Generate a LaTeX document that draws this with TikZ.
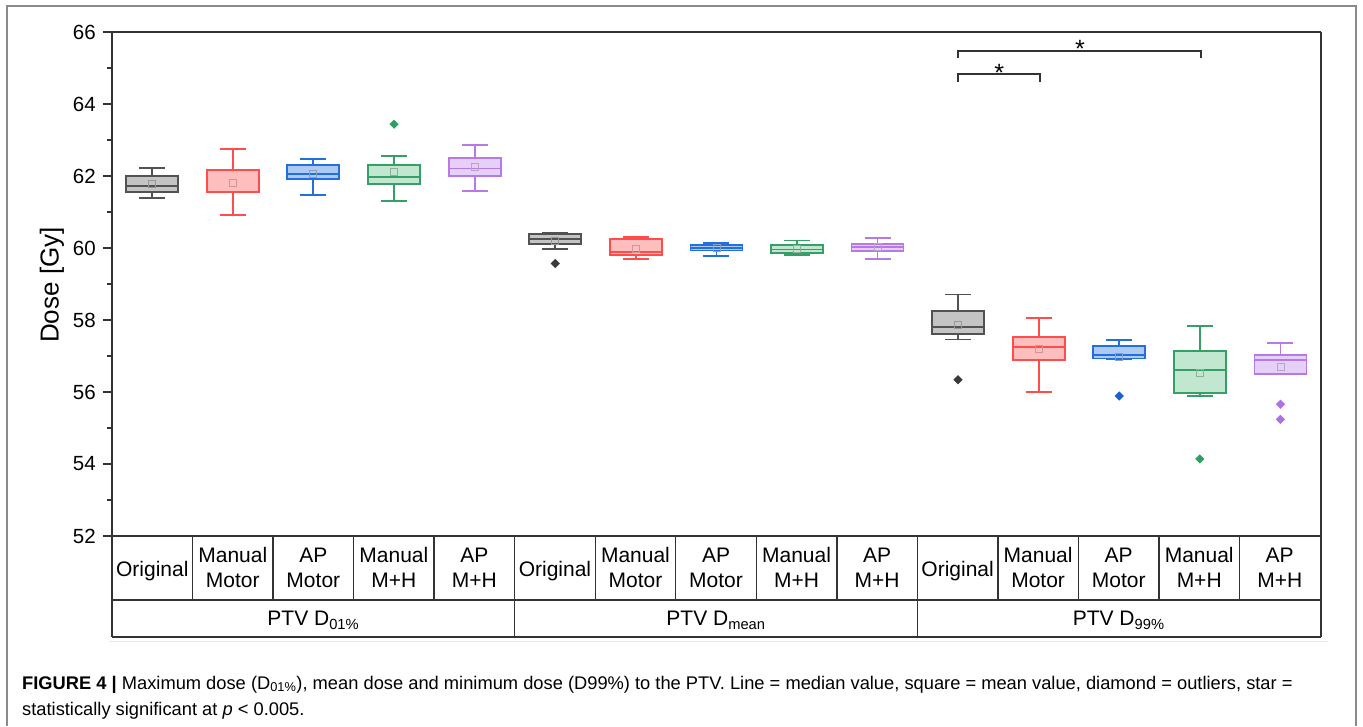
\documentclass[tikz,border=0pt]{standalone}
\usepackage{fontspec}
\setmainfont{Liberation Sans}
\definecolor{axcol}{HTML}{333333}
\definecolor{framegray}{HTML}{8A8A8A}
\definecolor{cgL}{HTML}{525252}\definecolor{cgF}{HTML}{C4C4C4}\definecolor{cgO}{HTML}{3A3A3A}
\definecolor{crL}{HTML}{FF4D4D}\definecolor{crF}{HTML}{FFBEBE}\definecolor{crO}{HTML}{FF4D4D}
\definecolor{cbL}{HTML}{2170DD}\definecolor{cbF}{HTML}{AECAF2}\definecolor{cbO}{HTML}{1A5FD6}
\definecolor{ceL}{HTML}{35A065}\definecolor{ceF}{HTML}{C2E7D0}\definecolor{ceO}{HTML}{2E9E62}
\definecolor{cpL}{HTML}{B779E8}\definecolor{cpF}{HTML}{E5D0F7}\definecolor{cpO}{HTML}{B070E5}
% #1 x, #2 whisker low, #3 q1, #4 median, #5 q3, #6 whisker high, #7 mean, #8 colour prefix
\newcommand{\bplot}[8]{%
  \draw[boxline, draw=#8L, fill=#8F] (#1-26,#3) rectangle (#1+26,#5);
  \draw[boxline, draw=#8L] (#1-26,#4) -- (#1+26,#4);
  \draw[boxline, draw=#8L] (#1,#5) -- (#1,#6) (#1-13,#6) -- (#1+13,#6)
        (#1,#3) -- (#1,#2) (#1-13,#2) -- (#1+13,#2);
  \draw[draw=#8L!45!gray!70!white, line width=0.8pt] (#1,#7) ++(-3.5pt,-3.5pt) rectangle ++(7pt,7pt);
}
\newcommand{\outl}[3]{\fill[#3] (#1,#2) +(4.6pt,0pt) -- +(0pt,4.6pt) -- +(-4.6pt,0pt) -- +(0pt,-4.6pt) -- cycle;}
\begin{document}
\begin{tikzpicture}[x=1pt,y=1pt,
  catlab/.style={font=\fontsize{21}{25}\selectfont, inner sep=0pt, anchor=base},
  ticklab/.style={font=\fontsize{20.5}{24}\selectfont, anchor=east, inner sep=0pt},
  axisline/.style={draw=axcol, line width=2pt},
  tabline/.style={draw=axcol, line width=1.4pt},
  tickline/.style={draw=axcol, line width=1.6pt},
  boxline/.style={line width=1.8pt},
  capt/.style={font=\fontsize{18.3}{22}\selectfont, anchor=base west, inner sep=0pt}]
\useasboundingbox (0,0) rectangle (1363,726);
\fill[white] (0,0) rectangle (1363,726);
% outer frame
\draw[framegray, line width=1.4pt] (7,0) -- (7,720) -- (1356,720) -- (1356,0);
\draw[gray!18, line width=1pt] (109,85) -- (1328,85);
% plot frame and table
\draw[axisline] (103,694) -- (1321,694);
\draw[axisline] (112,694) -- (112,89);
\draw[axisline] (1321,694) -- (1321,89);
\draw[tabline] (103,190) -- (1321,190);
\draw[tabline] (112,126) -- (1321,126);
\draw[tabline] (112,89) -- (1321,89);
\foreach \k in {1,...,14} {
  \pgfmathsetmacro{\xx}{112+\k*80.533}
  \draw[tabline] (\xx,190) -- (\xx,126);
}
\draw[tabline] (514.67,126) -- (514.67,89);
\draw[tabline] (917.33,126) -- (917.33,89);
% category labels
\foreach \g in {0,1,2} {
  \pgfmathsetmacro{\xo}{152.27+\g*402.67}
  \node[catlab] (orig\g) at (\xo,149) {Original};
  \foreach \i/\a/\b in {1/Manual/Motor, 2/AP/Motor, 3/Manual/M+H, 4/AP/M+H} {
    \pgfmathsetmacro{\xc}{152.27+(\g*5+\i)*80.533}
    \node[catlab] (ca\g\i) at (\xc,163) {\a};
    \node[catlab] (cb\g\i) at (\xc,138) {\b};
  }
}
\node[catlab] (grpA) at (313.3,100) {PTV D\textsubscript{01\%}};
\node[catlab] (grpB) at (716.0,100) {PTV D\textsubscript{mean}};
\node[catlab] (grpC) at (1118.7,100) {PTV D\textsubscript{99\%}};
% axis title
\node[font=\fontsize{26}{30}\selectfont, rotate=90, inner sep=0pt] (ylab) at (52,441) {Dose [Gy]};
% data scope: (x px, value Gy)
\begin{scope}[yshift=-1682pt, y=36pt]
  \foreach \v in {52,54,...,66} {
    \draw[tickline] (103,\v) -- (112,\v);
    \node[ticklab] (tk\v) at (96,\v) {\v};
  }
  \foreach \v in {53,55,...,65} \draw[tickline] (107,\v) -- (112,\v);
  % PTV D01%
  \bplot{152.3}{61.38}{61.56}{61.72}{62.00}{62.23}{61.77}{cg}
  \bplot{232.8}{60.91}{61.54}{61.56}{62.16}{62.74}{61.81}{cr}
  \bplot{313.3}{61.48}{61.91}{62.06}{62.30}{62.48}{62.05}{cb}
  \bplot{394.0}{61.31}{61.78}{61.97}{62.31}{62.56}{62.10}{ce}
  \bplot{474.6}{61.59}{62.00}{62.21}{62.51}{62.87}{62.25}{cp}
  \outl{394.0}{63.44}{ceO}
  % PTV Dmean
  \bplot{555.2}{59.98}{60.11}{60.25}{60.38}{60.42}{60.20}{cg}
  \bplot{635.7}{59.69}{59.80}{59.88}{60.24}{60.31}{59.97}{cr}
  \bplot{716.4}{59.77}{59.93}{60.01}{60.08}{60.14}{60.00}{cb}
  \bplot{796.8}{59.81}{59.86}{59.96}{60.08}{60.21}{59.97}{ce}
  \bplot{877.5}{59.70}{59.92}{60.02}{60.12}{60.27}{60.02}{cp}
  \outl{555.2}{59.57}{cgO}
  % PTV D99%
  \bplot{958.0}{57.46}{57.61}{57.81}{58.24}{58.71}{57.86}{cg}
  \bplot{1038.7}{56.01}{56.88}{57.26}{57.53}{58.05}{57.19}{cr}
  \bplot{1119.2}{56.90}{56.93}{57.03}{57.27}{57.45}{56.98}{cb}
  \bplot{1199.8}{55.88}{55.98}{56.62}{57.14}{57.84}{56.52}{ce}
  \bplot{1280.4}{56.49}{56.49}{56.89}{57.03}{57.35}{56.70}{cp}
  \outl{958.0}{56.34}{cgO}
  \outl{1119.2}{55.89}{cbO}
  \outl{1199.8}{54.14}{ceO}
  \outl{1280.4}{55.66}{cpO}
  \outl{1280.4}{55.24}{cpO}
\end{scope}
% significance brackets
\coordinate (s1a) at (958.0,667.7);
\coordinate (s1b) at (1200.5,667.7);
\coordinate (s2a) at (958.0,644);
\coordinate (s2b) at (1039.5,644);
\draw[tickline, line width=2pt] (s1a) -- ++(0,7) -| (s1b);
\draw[tickline, line width=2pt] (s2a) -- ++(0,7.7) -| (s2b);
\node[font=\fontsize{25}{28}\selectfont, inner sep=0pt, anchor=base] (star1) at (1080,668.5) {*};
\node[font=\fontsize{25}{28}\selectfont, inner sep=0pt, anchor=base] (star2) at (999.3,644) {*};
% caption
\node[capt] (cap1) at (22,37) {{\bfseries FIGURE 4 |} Maximum dose (D\textsubscript{01\%}), mean dose and minimum dose (D99\%) to the PTV. Line = median value, square = mean value, diamond = outliers, star =};
\node[capt] (cap2) at (22,11) {statistically significant at \textit{p} < 0.005.};
\end{tikzpicture}
\end{document}
